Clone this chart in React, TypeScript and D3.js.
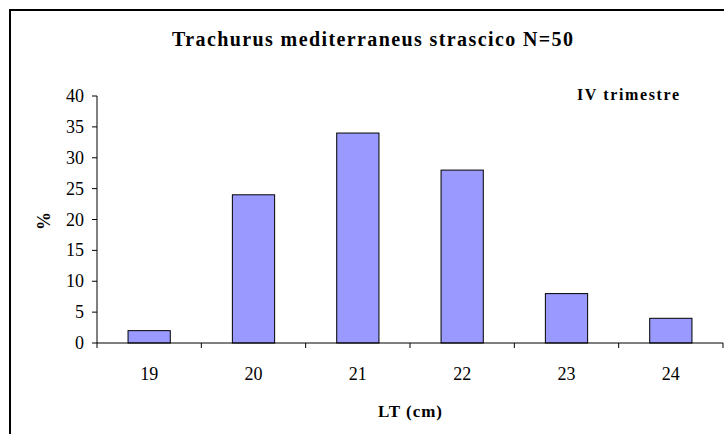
import React from "react";
import * as d3 from "d3";

const categories = ["19", "20", "21", "22", "23", "24"];
const values = [2, 24, 34, 28, 8, 4];
const yTicks = [0, 5, 10, 15, 20, 25, 30, 35, 40];

const title = "Trachurus mediterraneus strascico N=50";
const subtitle = "IV trimestre";
const xTitle = "LT (cm)";
const yTitle = "%";

const FONT = "'Liberation Serif', 'Times New Roman', Times, serif";

export default function App() {
  const W = 724;
  const H = 434;
  const left = 97;
  const right = 723;
  const top = 96;
  const bottom = 343;

  const x = d3.scaleBand<string>().domain(categories).range([left, right]).paddingInner(0).paddingOuter(0);
  const y = d3.scaleLinear().domain([0, 40]).range([bottom, top]);
  const barW = x.bandwidth() * 0.405;

  const xTickPos = [...categories.map((c) => x(c) as number), right];
  const txt = { fontFamily: FONT };

  return (
    <svg width={W} height={H} style={{ position: "absolute", left: 0, top: 0, background: "#fff" }}>
      <rect x={10} y={10} width={760} height={460} fill="#fff" stroke="#000" strokeWidth={2} />
      <text style={txt} x={172} y={46} fontSize={20} fontWeight="bold" textLength={401} lengthAdjust="spacing">{title}</text>
      <text style={txt} x={577} y={100} fontSize={16} fontWeight="bold" textLength={102} lengthAdjust="spacing">{subtitle}</text>

      {categories.map((c, i) => {
        const cx = (x(c) as number) + x.bandwidth() / 2;
        return (
          <rect
            key={c}
            x={cx - barW / 2}
            y={y(values[i])}
            width={barW}
            height={bottom - y(values[i])}
            fill="#9999FF"
            stroke="#000"
            strokeWidth={1}
          />
        );
      })}

      {/* y axis */}
      <line x1={left} x2={left} y1={top} y2={bottom} stroke="#000" />
      {yTicks.map((t) => (
        <g key={t}>
          <line x1={left - 5} x2={left} y1={y(t)} y2={y(t)} stroke="#000" />
          <text style={txt} x={84} y={y(t) + 6} textAnchor="end" fontSize={18}>{t}</text>
        </g>
      ))}

      {/* x axis */}
      <line x1={left} x2={right} y1={bottom} y2={bottom} stroke="#000" />
      {xTickPos.map((p, i) => (
        <line key={i} x1={p} x2={p} y1={bottom} y2={bottom + 5} stroke="#000" />
      ))}
      {categories.map((c) => (
        <text style={txt} key={c} x={(x(c) as number) + x.bandwidth() / 2} y={380} textAnchor="middle" fontSize={18}>{c}</text>
      ))}

      <text style={txt} x={378} y={417} fontSize={17} fontWeight="bold" textLength={64} lengthAdjust="spacing">{xTitle}</text>
      <text style={txt} transform={`translate(50,221) rotate(-90)`} textAnchor="middle" fontSize={18} fontWeight="bold">{yTitle}</text>
    </svg>
  );
}
